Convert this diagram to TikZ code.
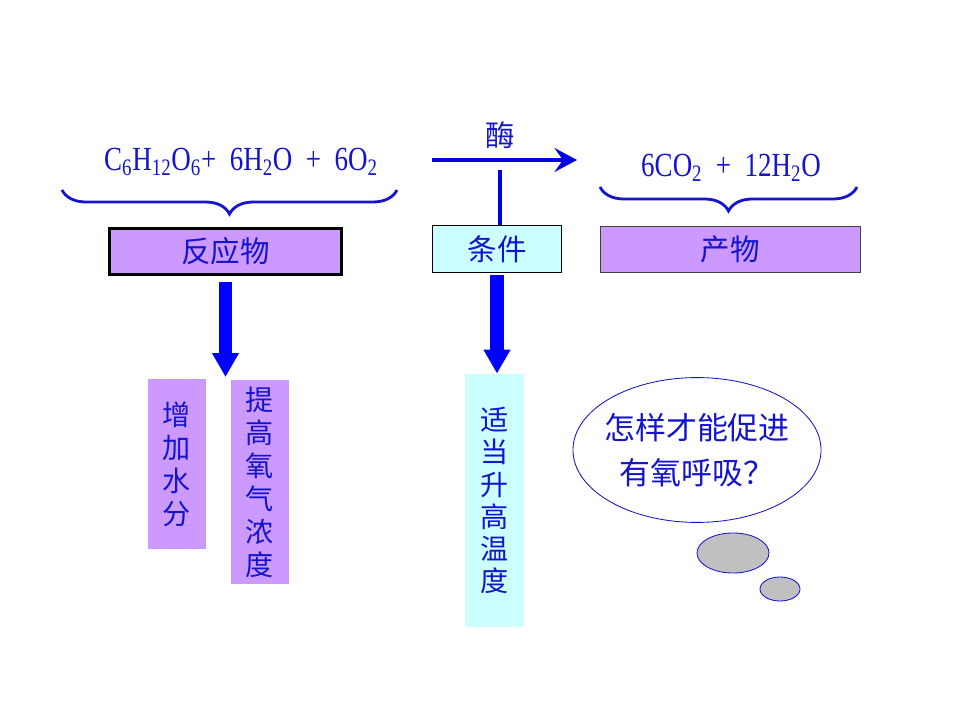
\documentclass[tikz,border=0pt]{standalone}
\usepackage{fontspec}
\setmainfont{Liberation Serif}
\newfontfamily\cjk{Noto Sans CJK SC}
\newfontfamily\chem[FakeStretch=0.8]{Liberation Serif}
\usetikzlibrary{arrows.meta,shapes.geometric,decorations.pathreplacing}
\definecolor{inkblue}{RGB}{20,20,205}
\definecolor{lilac}{RGB}{204,153,255}
\definecolor{paleaqua}{RGB}{204,255,255}
\definecolor{puffgray}{RGB}{192,192,192}
\tikzset{
  cn/.style={font=\cjk\fontsize{21}{24}\selectfont, text=inkblue},
  cnvert/.style={font=\cjk\fontsize{20}{23.5}\selectfont, text=inkblue, align=center, inner sep=0pt},
  formula/.style={font=\chem\fontsize{24}{26}\selectfont, text=inkblue},
  reactbox/.style={cn, fill=lilac, draw=black, line width=2pt, minimum width=5.8cm, minimum height=1.15cm},
  condbox/.style={cn, fill=paleaqua, draw=black, line width=0.7pt, minimum width=3.2cm, minimum height=1.15cm},
  prodbox/.style={cn, fill=lilac, draw=black!75, line width=0.7pt, minimum width=6.52cm, minimum height=1.17cm},
  tallbox/.style={cnvert, minimum width=1.45cm},
  bracket/.style={draw=inkblue, line width=2pt, decorate, decoration={brace, mirror, amplitude=0.6cm}},
  blockarrow/.style={draw=blue, line width=9.3pt, -{Triangle[length=17pt, width=18pt]}},
  puff/.style={ellipse, draw=inkblue, fill=puffgray, line width=0.6pt, inner sep=0pt}
}
\begin{document}
\begin{tikzpicture}[x=0.025cm, y=-0.025cm]
    \useasboundingbox (0,0) rectangle (960,720);
    % equation
    \node[formula] (lhs) at (241,162) {C\textsubscript{6}H\textsubscript{12}O\textsubscript{6}+\ \ 6H\textsubscript{2}O\ \ +\ \ 6O\textsubscript{2}};
    \node[formula] (rhs) at (731,168) {6CO\textsubscript{2}\ \ +\ \ 12H\textsubscript{2}O};
    \coordinate (ra) at (432,160);
    \coordinate (rb) at (577,160);
    \coordinate (rj) at (500,170);
    \draw[blue!90!black, line width=2.8pt, -{Stealth[length=16pt, width=17pt, inset=6pt]}] (ra) -- (rb);
    \node[cn] (enzyme) at (500,135) {酶};
    % braces
    \coordinate (bl1) at (62,190);
    \coordinate (bl2) at (397,190);
    \coordinate (br1) at (600,187);
    \coordinate (br2) at (857,187);
    \draw[bracket] (bl1) -- (bl2);
    \draw[bracket] (br1) -- (br2);
    % boxes
    \node[reactbox] (react) at (225.5,251.5) {反应物};
    \node[condbox] (cond) at (497,249) {条件};
    \node[prodbox] (prod) at (730.5,249.5) {产物};
    \draw[blue!90!black, line width=2.2pt] (cond.north -| rj) -- (rj);
    \node[tallbox, fill=lilac, minimum height=4.25cm] (water) at (177,464) {增\\加\\水\\分};
    \node[tallbox, fill=lilac, minimum height=5.1cm] (oxygen) at (260,482) {提\\高\\氧\\气\\浓\\度};
    \node[tallbox, fill=paleaqua, minimum height=6.33cm, font=\cjk\fontsize{20}{22.8}\selectfont] (temp) at (494.5,500.5) {适\\当\\升\\高\\温\\度};
    \coordinate (rtip) at (225.5,377);
    \draw[blockarrow, shorten <=0.15cm] (react.south) -- (react.south |- rtip);
    \draw[blockarrow, shorten <=0.07cm] (cond.south) -- (cond.south |- temp.north);
    % thought bubble
    \node[ellipse, draw=inkblue, fill=white, line width=0.6pt, minimum width=6.2cm, minimum height=3.62cm, inner sep=0pt,
          cn, font=\cjk\fontsize{22}{32}\selectfont, align=center] (quest) at (697,450)
          {\makebox[0pt]{怎样才能促进}\\\makebox[0pt]{有氧呼吸？}};
    \node[puff, minimum width=1.8cm, minimum height=1cm] (puffa) at (733,553) {};
    \node[puff, minimum width=1cm, minimum height=0.6cm] (puffb) at (780,589) {};
\end{tikzpicture}
\end{document}
